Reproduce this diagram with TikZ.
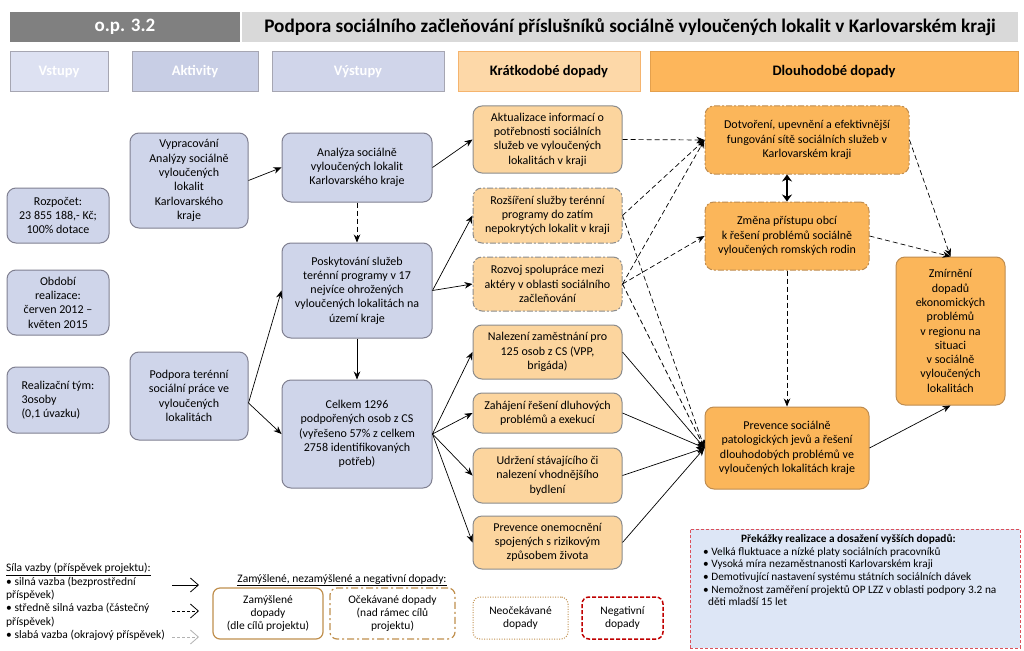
\documentclass[tikz,border=0pt]{standalone}
\usepackage{fontspec}
\setmainfont{Carlito}
\usetikzlibrary{arrows.meta,calc}
\definecolor{bluefill}{RGB}{207,213,234}
\definecolor{blueborder}{RGB}{128,128,145}
\definecolor{shfill}{RGB}{252,213,158}
\definecolor{shborder}{RGB}{140,140,140}
\definecolor{lgfill}{RGB}{251,182,90}
\definecolor{lgborder}{RGB}{190,140,80}
\definecolor{brownb}{RGB}{192,143,77}
\definecolor{negred}{RGB}{192,0,0}
\definecolor{obsfill}{RGB}{221,230,246}
\definecolor{obsred}{RGB}{220,80,90}
\definecolor{darkhdr}{RGB}{128,128,128}
\definecolor{lighthdr}{RGB}{217,217,217}
\definecolor{hvst}{RGB}{221,225,242}
\definecolor{hakt}{RGB}{200,206,229}
\definecolor{hvys}{RGB}{208,213,234}
\definecolor{hkr}{RGB}{253,216,168}
\definecolor{hkrb}{RGB}{245,180,110}
\definecolor{hdl}{RGB}{253,182,91}
\definecolor{hdlb}{RGB}{228,160,77}
\begin{document}
\begin{tikzpicture}[x=1pt,y=-1pt,
  box/.style={rounded corners=9pt, line width=1pt, align=center, inner sep=2pt, font=\fontsize{12}{14.3}\selectfont},
  bluebox/.style={box, fill=bluefill, draw=blueborder},
  shortbox/.style={box, fill=shfill, draw=shborder},
  shortdd/.style={shortbox, dash pattern=on 6pt off 2pt on 2pt off 2pt},
  longbox/.style={box, fill=lgfill, draw=lgborder},
  longdd/.style={longbox, dash pattern=on 6pt off 2pt on 2pt off 2pt},
  hdr/.style={minimum height=40pt, line width=1pt, inner sep=0pt, font=\bfseries\fontsize{14.5}{16}\selectfont},
  conn/.style={line width=0.7pt, -{Stealth[length=8pt,width=6.5pt]}},
  dconn/.style={conn, dash pattern=on 5pt off 3pt},
  legbox/.style={rounded corners=7pt, line width=1.2pt, fill=white, align=center, inner sep=1pt, font=\fontsize{11.5}{13.4}\selectfont},
  legarrow/.style={line width=0.8pt, -{Straight Barb[length=8pt,width=14pt]}}
]
\useasboundingbox (0,0) rectangle (1024,650);
\fill[white] (0,0) rectangle (1024,650);

% top bar
\node[fill=darkhdr, minimum width=230pt, minimum height=30pt, inner sep=0pt, text=white, font=\bfseries\fontsize{19}{20}\selectfont] (op) at (125,27) {o.p. 3.2};
\node[fill=lighthdr, minimum width=776pt, minimum height=30pt, inner sep=0pt, font=\bfseries\fontsize{19.2}{20}\selectfont] (title) at (630,27) {Podpora sociálního začleňování příslušníků sociálně vyloučených lokalit v Karlovarském kraji};

% column headers
\node[hdr, fill=hvst, draw=blueborder!70, text=white, minimum width=98pt] (hvst) at (59,72) {Vstupy};
\node[hdr, fill=hakt, draw=blueborder!70, text=white, minimum width=126pt] (hakt) at (195,72) {Aktivity};
\node[hdr, fill=hvys, draw=blueborder!70, text=white, minimum width=172pt] (hvys) at (358,72) {Výstupy};
\node[hdr, fill=hkr, draw=hkrb, minimum width=182pt] (hkr) at (549,72) {Krátkodobé dopady};
\node[hdr, fill=hdl, draw=hdlb, minimum width=368pt] (hdl) at (834,72) {Dlouhodobé dopady};

% inputs
\node[bluebox, minimum width=102pt, minimum height=55pt] (roz) at (58,215.5) {Rozpočet:\\23 855 188,- Kč;\\100\% dotace};
\node[bluebox, minimum width=102pt, minimum height=65pt] (obd) at (58,302.5) {Období\\realizace:\\červen 2012 –\\květen 2015};
\node[bluebox, align=left, minimum width=102pt, minimum height=66pt] (tym) at (58,400) {Realizační tým:\\3osoby\\(0,1 úvazku)};

% activities
\node[bluebox, minimum width=118pt, minimum height=95pt] (vyp) at (189,180.5) {Vypracování\\Analýzy sociálně\\vyloučených\\lokalit\\Karlovarského\\kraje};
\node[bluebox, minimum width=118pt, minimum height=88pt] (pod) at (189,396) {Podpora terénní\\sociální práce ve\\vyloučených\\lokalitách};

% outputs
\node[bluebox, minimum width=150pt, minimum height=69pt] (ana) at (357,167.5) {Analýza sociálně\\vyloučených lokalit\\Karlovarského kraje};
\node[bluebox, minimum width=150pt, minimum height=95pt] (pos) at (357,290.5) {Poskytování služeb\\terénní programy v 17\\nejvíce ohrožených\\vyloučených lokalitách na\\území kraje};
\node[bluebox, minimum width=150pt, minimum height=108pt] (cel) at (357,434) {Celkem 1296\\podpořených osob z CS\\(vyřešeno 57\% z celkem\\2758 identifikovaných\\potřeb)};

% short-term
\node[shortbox, minimum width=149pt, minimum height=67pt] (akt) at (547.5,139.5) {Aktualizace informací o\\potřebnosti sociálních\\služeb ve vyloučených\\lokalitách v kraji};
\node[shortdd, minimum width=149pt, minimum height=55pt] (roz2) at (547.5,215.5) {Rozšíření služby terénní\\programy do zatím\\nepokrytých lokalit v kraji};
\node[shortdd, minimum width=149pt, minimum height=54pt] (rozv) at (547.5,284) {Rozvoj spolupráce mezi\\aktéry v oblasti sociálního\\začleňování};
\node[shortbox, minimum width=149pt, minimum height=54pt] (nal) at (547.5,352) {Nalezení zaměstnání pro\\125 osob z CS (VPP,\\brigáda)};
\node[shortbox, minimum width=149pt, minimum height=40pt] (zah) at (547.5,413) {Zahájení řešení dluhových\\problémů a exekucí};
\node[shortbox, minimum width=149pt, minimum height=55pt] (udr) at (547.5,475.5) {Udržení stávajícího či\\nalezení vhodnějšího\\bydlení};
\node[shortbox, minimum width=149pt, minimum height=53pt] (pon) at (547.5,542.5) {Prevence onemocnění\\spojených s rizikovým\\způsobem života};

% long-term
\node[longdd, minimum width=204pt, minimum height=68pt] (dot) at (807,140) {Dotvoření, upevnění a efektivnější\\fungování sítě sociálních služeb v\\Karlovarském kraji};
\node[longdd, minimum width=164pt, minimum height=68pt] (zme) at (787,236) {Změna přístupu obcí\\k řešení problémů sociálně\\vyloučených romských rodin};
\node[longbox, minimum width=109pt, minimum height=148pt] (zmi) at (950.5,331) {Zmírnění\\dopadů\\ekonomických\\problémů\\v regionu na\\situaci\\v sociálně\\vyloučených\\lokalitách};
\node[longbox, minimum width=164pt, minimum height=82pt] (pre) at (787,448) {Prevence sociálně\\patologických jevů a řešení\\dlouhodobých problémů ve\\vyloučených lokalitách kraje};

% connectors: activities -> outputs
\draw[conn] (vyp.east) -- (ana.west);
\draw[conn] ([yshift=-7pt]pod.east) -- (pos.west);
\draw[conn] ([yshift=-7pt]pod.east) -- (cel.west);
\draw[dconn] (ana.south) -- (pos.north);
\draw[conn] (pos.south) -- (cel.north);
% outputs -> short-term
\draw[conn] (ana.east) -- (akt.west);
\draw[conn] (pos.east) -- (roz2.west);
\draw[conn] (pos.east) -- (rozv.west);
\draw[conn] (cel.east) -- (nal.west);
\draw[conn] (cel.east) -- (zah.west);
\draw[conn] (cel.east) -- (udr.west);
\draw[conn] (cel.east) -- (pon.west);
% short-term -> long-term
\draw[dconn] (akt.east) -- (dot.west);
\draw[dconn] (roz2.east) -- (dot.west);
\draw[dconn] (roz2.east) -- (pre.west);
\draw[dconn] (rozv.east) -- (dot.west);
\draw[dconn] (rozv.east) -- (zme.west);
\draw[dconn] (rozv.east) -- (pre.west);
\draw[conn] (nal.east) -- (pre.west);
\draw[conn] (zah.east) -- (pre.west);
\draw[conn] (udr.east) -- (pre.west);
\draw[conn] (pon.east) -- (pre.west);
% long-term
\draw[line width=1.6pt, {Stealth[length=7pt,width=10pt]}-{Stealth[length=7pt,width=10pt]}] (zme.north |- dot.south) -- (zme.north);
\draw[dconn] (zme.south) -- (pre.north);
\draw[dconn] (dot.east) -- (zmi.north);
\draw[dconn] (zme.east) -- (zmi.north);
\draw[conn] (pre.east) -- (zmi.south);

% obstacles
\node[draw=obsred, fill=obsfill, line width=1pt, dash pattern=on 3pt off 2pt, minimum width=330pt, minimum height=119pt, inner sep=0pt] (obs) at (855,588.5) {};
\node[anchor=north west, align=left, inner sep=0pt, font=\fontsize{11.3}{12.7}\selectfont] (obstext) at (703,534) {\hspace*{38pt}\textbf{Překážky realizace a dosažení vyšších dopadů:}\\
• Velká fluktuace a nízké platy sociálních pracovníků\\
• Vysoká míra nezaměstnanosti Karlovarském kraji\\
• Demotivující nastavení systému státních sociálních dávek\\
• Nemožnost zaměření projektů OP LZZ v oblasti podpory 3.2 na\\
\hspace*{5pt}děti mladší 15 let};

% legend
\node[anchor=north west, align=left, inner sep=0pt, font=\fontsize{11.5}{13.4}\selectfont] (legtext) at (6,563) {\underline{Síla vazby (příspěvek projektu):}\\
• silná vazba (bezprostřední\\
příspěvek)\\
• středně silná vazba (částečný\\
příspěvek)\\
• slabá vazba (okrajový příspěvek)};
\coordinate (la1) at (172,585); \coordinate (lb1) at (199,585);
\coordinate (la2) at (172,611); \coordinate (lb2) at (199,611);
\coordinate (la3) at (172,637); \coordinate (lb3) at (199,637);
\draw[legarrow] (la1) -- (lb1);
\draw[legarrow, dash pattern=on 3pt off 2pt] (la2) -- (lb2);
\draw[legarrow, gray!60, dash pattern=on 3pt off 2pt] (la3) -- (lb3);
\node[inner sep=0pt, font=\fontsize{11.5}{13.4}\selectfont] (legtitle) at (342,580) {\underline{Zamýšlené, nezamýšlené a negativní dopady:}};
\node[legbox, draw=brownb, minimum width=110pt, minimum height=51pt] (lz) at (268,613.5) {Zamýšlené\\dopady\\(dle cílů projektu)};
\node[legbox, draw=brownb, dash pattern=on 7pt off 3pt on 2pt off 3pt, minimum width=125pt, minimum height=51pt] (lo) at (392.5,613.5) {Očekávané dopady\\(nad rámec cílů\\projektu)};
\node[legbox, draw=brownb, line width=1pt, dash pattern=on 1pt off 1.5pt, minimum width=95pt, minimum height=42pt] (ln) at (520.5,618) {Neočekávané\\dopady};
\node[legbox, draw=negred, line width=1.5pt, dash pattern=on 4pt off 2pt, minimum width=81pt, minimum height=42pt] (lneg) at (622.5,618) {Negativní\\dopady};
\end{tikzpicture}
\end{document}
